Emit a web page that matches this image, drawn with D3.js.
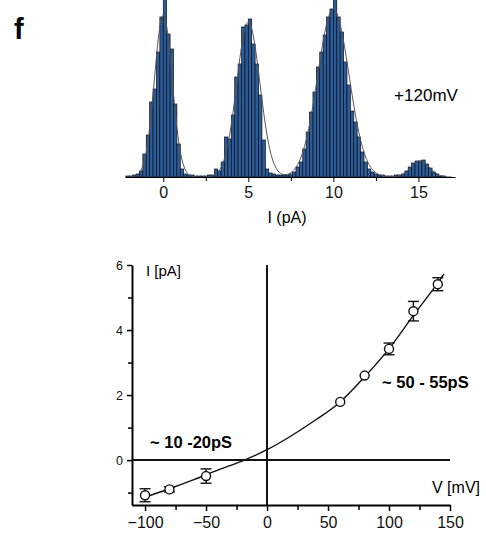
<!DOCTYPE html>
<html><head><meta charset="utf-8">
<script src="https://cdn.jsdelivr.net/npm/d3@7"></script>
<style>body{margin:0;background:#fff}svg{display:block}text{font-family:"Liberation Sans",Arial,sans-serif}</style>
</head><body><svg id="c" width="486" height="538"></svg>
<script>
// ---------- Histogram data (current amplitude, bins of 0.2 pA, left edges) ----------
const binWidth = 0.2;
const binLeft0 = -2.2;
const histCounts = [
  1,1,2,3,6,23,42,75,88,125,160,200,143,128,73,33,8,3,2,     // -2.2 .. 1.6
  2,1,1,1,1,2,2,                                              // 1.6 .. 3.0
  8,6,15,40,38,62,100,113,150,152,158,133,113,82,37,8,4,3,   // 3.0 .. 6.6
  2,2,2,2,3,                                                  // 6.6 .. 7.6
  5,10,15,28,45,65,85,110,125,142,160,168,200,160,145,115,92,66,55,40,25,15,8,5,3, // 7.6 .. 12.6
  2,2,1,1,1,2,                                                // 12.6 .. 13.8
  2,3,6,10,14,16,16,17,13,9,5,3,1,1                           // 13.8 .. 16.6
];
// Gaussian fit parameters
const fitCenters = [0, 5, 10, 15.1];
const fitAmps    = [162, 155, 168, 16];
const fitSigmas  = [0.52, 0.68, 0.92, 0.55];
const histTicks = [0, 5, 10, 15];
const histMinorTicks = [2.5, 7.5, 12.5];

// ---------- I-V data ----------
const ivVoltage = [-100, -80, -50, 60, 80, 100, 120, 140];
const ivCurrent = [-1.08, -0.9, -0.49, 1.79, 2.6, 3.42, 4.58, 5.41];
const ivError   = [0.2, 0.08, 0.22, 0, 0, 0.18, 0.3, 0.2];
const fitV = [-100, -80, -60, -40, -20, 0, 20, 40, 60, 80, 100, 120, 140, 145];
const fitI = [-1.14, -0.88, -0.6, -0.3, -0.02, 0.32, 0.75, 1.24, 1.79, 2.56, 3.42, 4.45, 5.45, 5.72];
const ivXTicks = [-100, -50, 0, 50, 100, 150];
const ivXMinor = [-75, -25, 25, 75, 125];
const ivYTicks = [0, 2, 4, 6];
const ivYMinor = [-1, 1, 3, 5];

const svg = d3.select("#c");

// panel letter
svg.append("text").attr("x", 14).attr("y", 39).attr("font-size", 29).attr("font-weight", "bold").text("f");

// ---------- Histogram ----------
const hx = d3.scaleLinear().domain([-2.25, 17.15]).range([125, 455]);
const hy = d3.scaleLinear().domain([0, 177]).range([177, 0]);
const bins = histCounts.map((c, i) => ({x0: binLeft0 + i * binWidth, c}));
svg.append("g").selectAll("rect").data(bins).join("rect")
  .attr("x", d => hx(d.x0)).attr("width", d => hx(d.x0 + binWidth) - hx(d.x0))
  .attr("y", d => hy(d.c)).attr("height", d => hy(0) - hy(d.c))
  .attr("fill", "#2b5c98").attr("stroke", "#0b0f1e").attr("stroke-width", 0.7);

const fitXs = d3.range(-2.2, 17.0, 0.05);
const fitLine = d3.line().x(d => hx(d)).y(d => hy(d3.sum(fitCenters, (m, k) => fitAmps[k] * Math.exp(-((d - m) ** 2) / (2 * fitSigmas[k] ** 2)))));
svg.append("path").datum(fitXs).attr("d", fitLine).attr("fill", "none").attr("stroke", "#555").attr("stroke-width", 1);

const hAxis = svg.append("g").attr("transform", "translate(0,177)")
  .call(d3.axisBottom(hx).tickValues(histTicks).tickSize(5).tickSizeOuter(0).tickPadding(5).tickFormat(d3.format("d")));
hAxis.select(".domain").attr("stroke-width", 1.2);
hAxis.selectAll("text").attr("font-size", 16).attr("font-family", "Liberation Sans, Arial, sans-serif").attr("fill", "#111");
svg.append("g").attr("transform", "translate(0,177)")
  .call(d3.axisBottom(hx).tickValues(histMinorTicks).tickSize(4).tickFormat(""))
  .select(".domain").remove();
svg.append("text").attr("x", 287).attr("y", 223).attr("text-anchor", "middle").attr("font-size", 16).text("I (pA)");
svg.append("text").attr("x", 426).attr("y", 101).attr("text-anchor", "middle").attr("font-size", 17).text("+120mV");

// ---------- I-V plot ----------
const vx = d3.scaleLinear().domain([-110.7, 150]).range([132, 450]);
const vy = d3.scaleLinear().domain([-1.38, 6]).range([505, 265]);

// zero lines
svg.append("line").attr("x1", vx(0)).attr("x2", vx(0)).attr("y1", vy(6)).attr("y2", vy(-1.38)).attr("stroke", "#111").attr("stroke-width", 2);
svg.append("line").attr("x1", vx(-110.7)).attr("x2", vx(150)).attr("y1", vy(0)).attr("y2", vy(0)).attr("stroke", "#111").attr("stroke-width", 2);

const yAx = svg.append("g").attr("transform", `translate(${vx(-110.7)},0)`)
  .call(d3.axisLeft(vy).tickValues(ivYTicks).tickSize(5).tickSizeOuter(0).tickPadding(4).tickFormat(d3.format("d")));
yAx.select(".domain").attr("stroke-width", 2);
yAx.selectAll(".tick line").attr("stroke-width", 1.5);
yAx.selectAll("text").attr("font-size", 12.5).attr("font-family", "Liberation Sans, Arial, sans-serif").attr("fill", "#111");
const yMin = svg.append("g").attr("transform", `translate(${vx(-110.7)},0)`)
  .call(d3.axisLeft(vy).tickValues(ivYMinor).tickSize(4).tickFormat(""));
yMin.select(".domain").remove();
yMin.selectAll(".tick line").attr("stroke-width", 1.5);

const xAx = svg.append("g").attr("transform", `translate(0,${vy(-1.38)})`)
  .call(d3.axisBottom(vx).tickValues(ivXTicks).tickSize(6).tickSizeOuter(0).tickPadding(6).tickFormat(d3.format("d")));
xAx.select(".domain").attr("stroke-width", 2);
xAx.selectAll(".tick line").attr("stroke-width", 1.5);
xAx.selectAll("text").attr("font-size", 16).attr("font-family", "Liberation Sans, Arial, sans-serif").attr("fill", "#111");
const xMin = svg.append("g").attr("transform", `translate(0,${vy(-1.38)})`)
  .call(d3.axisBottom(vx).tickValues(ivXMinor).tickSize(5).tickFormat(""));
xMin.select(".domain").remove();
xMin.selectAll(".tick line").attr("stroke-width", 1.5);

// fitted curve
const ivLine = d3.line().x((d, i) => vx(fitV[i])).y(d => vy(d)).curve(d3.curveMonotoneX);
svg.append("path").datum(fitI).attr("d", ivLine).attr("fill", "none").attr("stroke", "#111").attr("stroke-width", 1.4);

// error bars
const pts = ivVoltage.map((v, i) => ({v, i: ivCurrent[i], e: ivError[i]}));
const eb = svg.append("g").attr("stroke", "#111").attr("stroke-width", 1.4);
pts.filter(d => d.e > 0).forEach(d => {
  eb.append("line").attr("x1", vx(d.v)).attr("x2", vx(d.v)).attr("y1", vy(d.i - d.e)).attr("y2", vy(d.i + d.e));
  eb.append("line").attr("x1", vx(d.v) - 5.5).attr("x2", vx(d.v) + 5.5).attr("y1", vy(d.i - d.e)).attr("y2", vy(d.i - d.e));
  eb.append("line").attr("x1", vx(d.v) - 5.5).attr("x2", vx(d.v) + 5.5).attr("y1", vy(d.i + d.e)).attr("y2", vy(d.i + d.e));
});
svg.append("g").selectAll("circle").data(pts).join("circle")
  .attr("cx", d => vx(d.v)).attr("cy", d => vy(d.i)).attr("r", 4.5)
  .attr("fill", "#fff").attr("stroke", "#111").attr("stroke-width", 1.4);

// labels
svg.append("text").attr("x", 146).attr("y", 276).attr("font-size", 15).text("I [pA]");
svg.append("text").attr("x", 480).attr("y", 493).attr("text-anchor", "end").attr("font-size", 16).text("V [mV]");
svg.append("text").attr("x", 150).attr("y", 448).attr("font-size", 16.5).attr("font-weight", "bold").text("~ 10 -20pS");
svg.append("text").attr("x", 382).attr("y", 388).attr("font-size", 16.5).attr("font-weight", "bold").text("~ 50 - 55pS");
</script></body></html>
